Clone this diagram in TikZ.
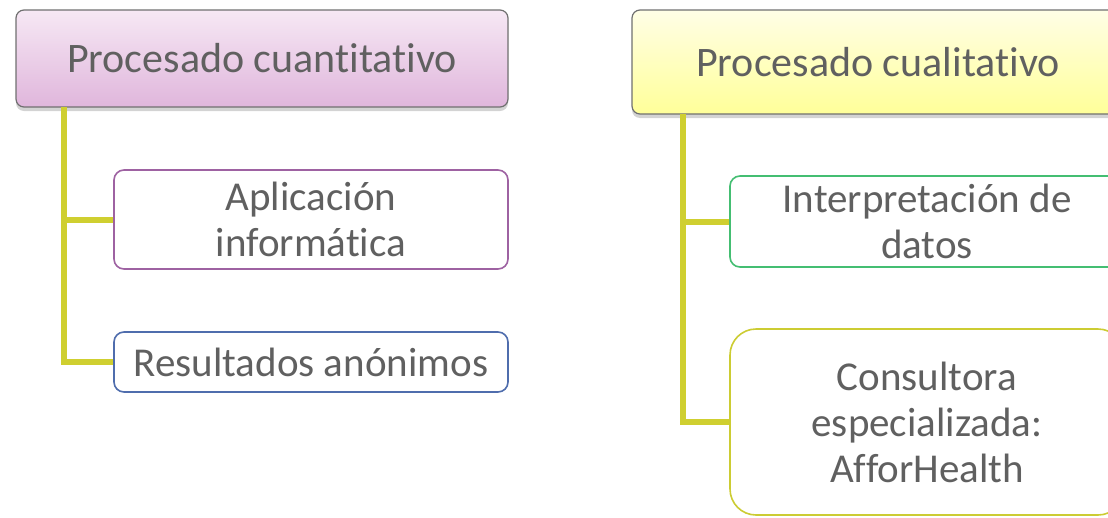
\documentclass[tikz,border=0pt]{standalone}
\usepackage{fontspec}
\setmainfont{Carlito}[RawFeature={-liga}]
\usetikzlibrary{shadows}

\definecolor{txtgrey}{HTML}{606060}
\definecolor{linkline}{HTML}{CFCF30}
\definecolor{headedge}{HTML}{707070}
\definecolor{pinktop}{HTML}{F6E8F4}
\definecolor{pinkbot}{HTML}{E0B6DC}
\definecolor{yeltop}{HTML}{FFFEE6}
\definecolor{yelbot}{HTML}{FFFF99}
\definecolor{purpedge}{HTML}{9E62A2}
\definecolor{blueedge}{HTML}{4F6DAD}
\definecolor{greenedge}{HTML}{44BE72}
\definecolor{oliveedge}{HTML}{CCCC33}

\tikzset{
  headbox/.style={draw=headedge, line width=1.2pt, rounded corners=8pt,
    minimum width=492pt, text=txtgrey, font=\fontsize{42}{48}\selectfont,
    drop shadow={shadow xshift=0pt, shadow yshift=-4pt, opacity=.35}},
  leafbox/.style={draw, line width=1.6pt, rounded corners=10pt, fill=white,
    minimum width=394pt, align=center, text=txtgrey,
    font=\fontsize{41}{46}\selectfont},
  link/.style={draw=linkline, line width=6pt}
}

\begin{document}
\begin{tikzpicture}[x=1pt,y=-1pt]
\useasboundingbox (0,0) rectangle (1108,517);
\clip (0,0) rectangle (1108,517);

% cuantitativo
\node[headbox, minimum height=97pt, top color=pinktop, bottom color=pinkbot] (cuanti) at (262,58.5) {Procesado cuantitativo};
\node[leafbox, draw=purpedge, minimum height=99pt] (aplic) at (311,219.5) {Aplicación\\informática};
\node[leafbox, draw=blueedge, minimum height=60pt] (result) at (311,362) {Resultados anónimos};

% cualitativo
\node[headbox, minimum height=104pt, top color=yeltop, bottom color=yelbot] (cuali) at (878,62) {Procesado cualitativo};
\node[leafbox, draw=greenedge, minimum height=91pt] (interp) at (927,221.5) {Interpretación de\\datos};
\node[leafbox, draw=oliveedge, rounded corners=26pt, minimum height=186pt] (consult) at (927,422) {Consultora\\especializada:\\AfforHealth};

\coordinate (ltop) at (64,107);
\coordinate (rtop) at (683,114);

\path[link] (ltop) |- (result.west);
\path[link] (ltop |- aplic.west) -- (aplic.west);
\path[link] (rtop) |- (consult.west);
\path[link] (rtop |- interp.west) -- (interp.west);
\end{tikzpicture}
\end{document}
